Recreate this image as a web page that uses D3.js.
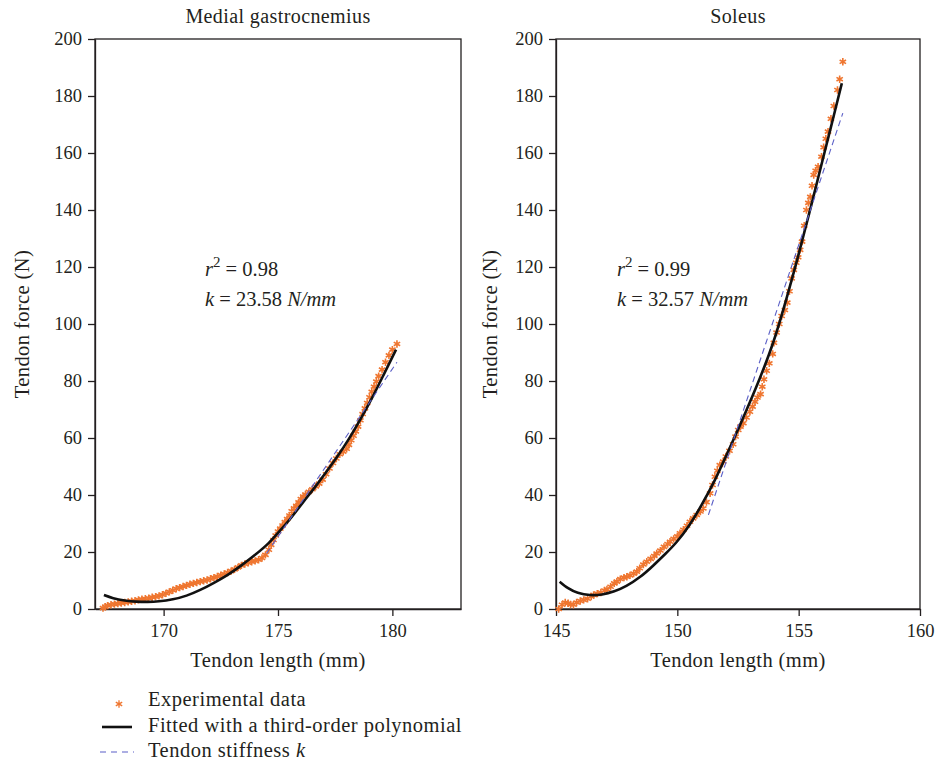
<!DOCTYPE html>
<html>
<head>
<meta charset="utf-8">
<script src="https://cdn.jsdelivr.net/npm/d3@7"></script>
<style>
  body { margin: 0; background: #ffffff; }
  text { font-family: "Liberation Serif", "Times New Roman", serif; fill: #231f20; }
</style>
</head>
<body>
<svg id="chart" width="939" height="767"></svg>
<script>
// ---- Shared axis ticks ----
const forceTicks = [0, 20, 40, 60, 80, 100, 120, 140, 160, 180, 200];
const mgLengthTicks = [170, 175, 180];
const solLengthTicks = [145, 150, 155, 160];

// ---- Medial gastrocnemius: experimental data (mm, N) ----
const mgLength = [167.35,167.45,167.55,167.7,167.85,168.0,168.15,168.3,168.45,168.6,168.75,168.9,169.05,169.2,169.35,169.5,169.65,169.8,169.95,170.1,170.25,170.4,170.55,170.7,170.85,171.0,171.15,171.3,171.45,171.6,171.75,171.9,172.05,172.2,172.35,172.5,172.65,172.8,172.95,173.1,173.25,173.4,173.55,173.7,173.85,174.0,174.15,174.3,174.45,174.6,174.7,174.8,174.9,175.0,175.1,175.2,175.3,175.4,175.5,175.6,175.7,175.8,175.9,176.0,176.1,176.2,176.35,176.5,176.65,176.8,176.95,177.1,177.25,177.4,177.55,177.7,177.85,178.0,178.1,178.2,178.3,178.4,178.5,178.6,178.7,178.8,178.9,179.0,179.1,179.2,179.3,179.4,179.55,179.7,179.85,180.0,180.2];
const mgForce  = [0.3,0.8,1.2,1.5,1.7,1.9,2.1,2.3,2.5,2.7,2.9,3.2,3.4,3.6,3.8,4.1,4.3,4.6,5.0,5.5,6.0,6.6,7.1,7.5,7.9,8.3,8.7,9.0,9.3,9.6,9.9,10.2,10.6,11.0,11.4,11.9,12.3,12.8,13.3,13.9,14.6,15.3,15.8,16.2,16.6,16.9,17.3,17.9,19.0,20.8,22.5,24.2,25.8,27.2,28.2,29.3,30.5,31.6,32.8,34.3,35.3,36.2,37.4,38.6,39.5,40.2,41.1,42.0,43.0,44.0,45.4,47.3,49.3,51.2,52.8,54.3,55.2,56.2,57.6,59.2,60.8,62.3,64.0,66.2,68.4,70.4,72.3,74.3,76.2,78.0,79.8,81.7,84.0,86.6,89.0,91.0,93.0];
// third-order polynomial fit, sampled
const mgFitLength = [167.39,167.8,168.3,168.8,169.3,169.8,170.4,171.0,171.6,172.2,172.8,173.4,174.0,174.6,175.1,175.6,176.1,176.6,177.1,177.6,178.1,178.6,179.1,179.6,180.16];
const mgFitForce  = [4.9,3.8,3.0,2.6,2.5,2.7,3.4,4.7,6.7,9.2,12.0,15.3,19.0,23.2,27.6,32.3,37.5,42.6,48.0,53.6,59.7,66.5,73.9,81.9,91.0];
// tendon stiffness line
const mgStiffLength = [174.5, 180.2];
const mgStiffForce  = [19.5, 86.6];

// ---- Soleus: experimental data (mm, N) ----
const solLength = [145.11,145.25,145.38,145.5,145.6,145.72,145.85,146.0,146.14,146.3,146.45,146.55,146.7,146.85,147.0,147.1,147.25,147.4,147.51,147.65,147.8,147.92,148.05,148.2,148.33,148.45,148.6,148.74,148.9,149.05,149.15,149.3,149.45,149.6,149.7,149.85,150.0,150.11,150.25,150.4,150.52,150.65,150.8,150.95,151.07,151.2,151.35,151.45,151.55,151.65,151.75,151.89,152.0,152.15,152.3,152.4,152.51,152.6,152.72,152.85,152.99,153.1,153.2,153.3,153.43,153.5,153.57,153.68,153.79,153.93,153.98,154.09,154.2,154.3,154.43,154.53,154.62,154.71,154.8,154.9,154.98,155.06,155.14,155.23,155.32,155.4,155.48,155.55,155.62,155.7,155.8,155.94,156.03,156.12,156.21,156.33,156.45,156.6,156.69,156.82];
const solForce  = [0.0,1.5,2.3,2.0,1.6,1.5,2.3,2.8,3.2,3.6,4.4,4.9,5.4,5.8,6.5,6.9,7.8,9.0,9.6,10.5,11.0,11.3,11.8,12.4,13.1,14.3,15.6,16.6,17.6,18.6,19.5,20.5,21.8,22.8,23.6,24.6,25.5,26.6,27.8,29.2,30.6,31.8,33.0,34.2,35.3,37.5,40.6,43.5,46.4,48.5,50.5,51.7,53.5,55.5,57.8,60.5,62.8,64.0,65.2,67.2,69.2,71.0,72.7,74.2,75.4,78.0,80.6,83.6,86.2,89.5,93.4,97.0,100.0,102.8,104.9,107.5,111.5,116.0,119.0,121.5,123.4,126.0,128.9,134.5,140.0,142.5,144.6,148.5,152.3,153.8,155.2,158.7,162.0,165.0,167.5,172.0,176.5,182.1,185.9,192.0];
const solFitLength = [145.15,145.5,145.9,146.4,146.9,147.4,147.9,148.47,149.0,149.5,149.98,150.5,151.0,151.55,152.05,152.58,153.0,153.4,153.95,154.5,155.0,155.5,156.0,156.4,156.78];
const solFitForce  = [9.6,7.3,5.7,4.9,5.1,6.2,8.1,11.3,15.2,19.3,23.6,29.5,36.5,45.3,54.5,64.5,72.8,81.0,93.5,109.0,124.5,141.0,158.0,171.5,184.5];
const solStiffLength = [151.28, 156.82];
const solStiffForce  = [33.0, 174.0];

// ---- Annotations ----
const panelTitles = ["Medial gastrocnemius", "Soleus"];
const rSquared = ["0.98", "0.99"];
const stiffness = ["23.58", "32.57"];

const orange = "#ef7630";
const dashBlue = "#5b5fc7";
const ink = "#231f20";

const zip = (xs, ys) => xs.map((v, i) => ({ x: v, y: ys[i] }));

const panels = [
  { left: 95, right: 461, domain: [167, 183], xticks: mgLengthTicks, title: panelTitles[0],
    data: zip(mgLength, mgForce), fit: zip(mgFitLength, mgFitForce), stiff: zip(mgStiffLength, mgStiffForce),
    r2: rSquared[0], k: stiffness[0], annX: 205, ylabX: 29 },
  { left: 556, right: 920, domain: [145, 160], xticks: solLengthTicks, title: panelTitles[1],
    data: zip(solLength, solForce), fit: zip(solFitLength, solFitForce), stiff: zip(solStiffLength, solStiffForce),
    r2: rSquared[1], k: stiffness[1], annX: 617, ylabX: 497 }
];

const plotTop = 39, plotBottom = 609;
const svg = d3.select("#chart");
const asterisk = d3.symbol().type(d3.symbolAsterisk || d3.symbolCross).size(38);

panels.forEach(p => {
  const x = d3.scaleLinear().domain(p.domain).range([p.left, p.right]);
  const y = d3.scaleLinear().domain([0, 200]).range([plotBottom, plotTop]);
  const g = svg.append("g");

  // frame
  g.append("rect").attr("x", p.left).attr("y", plotTop)
    .attr("width", p.right - p.left).attr("height", plotBottom - plotTop)
    .attr("fill", "none").attr("stroke", ink).attr("stroke-width", 1.3);

  // axes
  const ya = g.append("g").attr("transform", `translate(${p.left},0)`)
    .call(d3.axisLeft(y).tickValues(forceTicks).tickSize(7).tickPadding(6).tickSizeOuter(0));
  const xa = g.append("g").attr("transform", `translate(0,${plotBottom})`)
    .call(d3.axisBottom(x).tickValues(p.xticks).tickSize(7).tickPadding(8).tickSizeOuter(0));
  [ya, xa].forEach(a => {
    a.select(".domain").attr("stroke", ink).attr("stroke-width", 1.3);
    a.selectAll(".tick line").attr("stroke", ink).attr("stroke-width", 1.3);
    a.selectAll(".tick text").attr("font-size", 18.5).attr("fill", ink)
      .style("font-family", '"Liberation Serif", serif');
  });

  // titles and axis labels
  g.append("text").attr("x", (p.left + p.right) / 2).attr("y", 23)
    .attr("text-anchor", "middle").attr("font-size", 20).attr("letter-spacing", 0.4).text(p.title);
  g.append("text").attr("x", (p.left + p.right) / 2).attr("y", 667)
    .attr("text-anchor", "middle").attr("font-size", 20.5).attr("letter-spacing", 0.4).text("Tendon length (mm)");
  g.append("text").attr("transform", `translate(${p.ylabX},${(plotTop + plotBottom) / 2}) rotate(-90)`)
    .attr("text-anchor", "middle").attr("font-size", 20.5).attr("letter-spacing", 0.4).text("Tendon force (N)");

  // experimental data markers
  g.append("g").selectAll("path").data(p.data).join("path")
    .attr("transform", d => `translate(${x(d.x)},${y(d.y)})`)
    .attr("d", asterisk).attr("fill", "none").attr("stroke", orange).attr("stroke-width", 1.6);

  // polynomial fit
  g.append("path").datum(p.fit)
    .attr("d", d3.line().x(d => x(d.x)).y(d => y(d.y)).curve(d3.curveNatural))
    .attr("fill", "none").attr("stroke", "#111").attr("stroke-width", 2.6);

  // stiffness line
  g.append("path").datum(p.stiff)
    .attr("d", d3.line().x(d => x(d.x)).y(d => y(d.y)))
    .attr("fill", "none").attr("stroke", dashBlue).attr("stroke-width", 1.1)
    .attr("stroke-dasharray", "6,4");

  // fit statistics
  const t1 = g.append("text").attr("x", p.annX).attr("y", 276).attr("font-size", 20.5);
  t1.append("tspan").attr("font-style", "italic").text("r");
  t1.append("tspan").attr("font-size", 15).attr("dy", -9).text("2");
  t1.append("tspan").attr("dy", 9).text(" = " + p.r2);
  const t2 = g.append("text").attr("x", p.annX).attr("y", 306).attr("font-size", 20.5);
  t2.append("tspan").attr("font-style", "italic").text("k");
  t2.append("tspan").text(" = " + p.k + " ");
  t2.append("tspan").attr("font-style", "italic").text("N/mm");
});

// ---- Legend ----
const lg = svg.append("g");
lg.append("path").attr("transform", "translate(119,704)").attr("d", asterisk)
  .attr("fill", "none").attr("stroke", orange).attr("stroke-width", 1.3);
lg.append("line").attr("x1", 102).attr("x2", 132).attr("y1", 727).attr("y2", 727)
  .attr("stroke", "#111").attr("stroke-width", 2.6);
lg.append("line").attr("x1", 100).attr("x2", 134).attr("y1", 752).attr("y2", 752)
  .attr("stroke", dashBlue).attr("stroke-width", 1.1).attr("stroke-dasharray", "6,5");
const legendLabels = ["Experimental data", "Fitted with a third-order polynomial"];
legendLabels.forEach((s, i) => {
  lg.append("text").attr("x", 148).attr("y", 706 + i * 25.7).attr("font-size", 20.5)
    .attr("letter-spacing", 0.5).text(s);
});
const l3 = lg.append("text").attr("x", 148).attr("y", 757.4).attr("font-size", 20.5).attr("letter-spacing", 0.5);
l3.append("tspan").text("Tendon stiffness ");
l3.append("tspan").attr("font-style", "italic").text("k");
</script>
</body>
</html>
